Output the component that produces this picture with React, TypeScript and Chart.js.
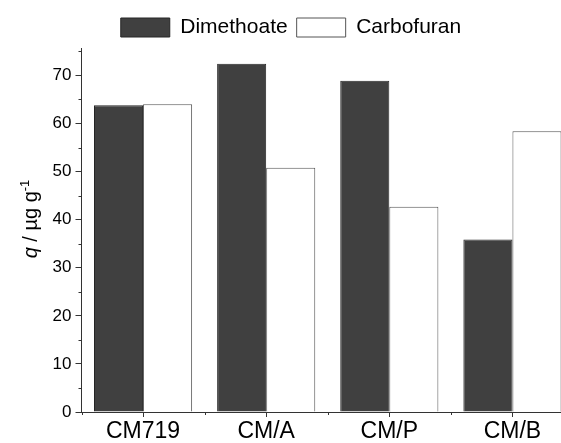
import React, { useEffect, useRef } from "react";
import { Chart, registerables } from "chart.js";

Chart.register(...registerables);
Chart.defaults.font.family = "'Liberation Sans', Arial, sans-serif";

const categories = ["CM719", "CM/A", "CM/P", "CM/B"];
const seriesNames = ["Dimethoate", "Carbofuran"];
const dimethoate = [63.8, 72.4, 68.9, 35.9];
const carbofuran = [64.0, 50.8, 42.7, 58.4];
const yMajorTicks = [0, 10, 20, 30, 40, 50, 60, 70];
const yMinorTicks = [5, 15, 25, 35, 45, 55, 65, 75];
const yMin = 0;
const yMax = 75.7;

const FONT = "'Liberation Sans', Arial, sans-serif";
const AXIS_COLOR = "#333333";
const TEXT_COLOR = "#000000";

const extrasPlugin = {
  id: "extras",
  afterDraw(chart: any) {
    const ctx = chart.ctx;
    const ys = chart.scales.y;
    const xs = chart.scales.x;
    const area = chart.chartArea;
    ctx.save();
    ctx.strokeStyle = AXIS_COLOR;
    ctx.lineWidth = 1;
    ctx.beginPath();
    for (const v of yMinorTicks) {
      const py = Math.round(ys.getPixelForValue(v)) + 0.5;
      ctx.moveTo(area.left - 3, py);
      ctx.lineTo(area.left, py);
    }
    for (let i = 0; i <= categories.length; i++) {
      const px = Math.round(xs.getPixelForValue(i - 0.5)) + 0.5;
      ctx.moveTo(px, area.bottom);
      ctx.lineTo(px, area.bottom + 3);
    }
    ctx.stroke();

    // y-axis title: italic q, then " / µg g" and superscript -1
    const cy = (area.top + area.bottom) / 2 - 11;
    const baseX = 37;
    const f1 = `italic 20px ${FONT}`;
    const f2 = `20px ${FONT}`;
    const f3 = `13px ${FONT}`;
    const s1 = "q";
    const s2 = " / µg g";
    const s3 = "-1";
    ctx.font = f1;
    const w1 = ctx.measureText(s1).width;
    ctx.font = f2;
    const w2 = ctx.measureText(s2).width;
    ctx.font = f3;
    const w3 = ctx.measureText(s3).width;
    const total = w1 + w2 + w3;
    ctx.translate(baseX, cy);
    ctx.rotate(-Math.PI / 2);
    ctx.fillStyle = TEXT_COLOR;
    ctx.textBaseline = "alphabetic";
    ctx.textAlign = "left";
    let x0 = -total / 2;
    ctx.font = f1;
    ctx.fillText(s1, x0, 0);
    x0 += w1;
    ctx.font = f2;
    ctx.fillText(s2, x0, 0);
    x0 += w2;
    ctx.font = f3;
    ctx.fillText(s3, x0, -8);
    ctx.restore();
  },
};

export default function App() {
  const canvasRef = useRef<HTMLCanvasElement | null>(null);

  useEffect(() => {
    if (!canvasRef.current) return;
    const chart = new Chart(canvasRef.current, {
      type: "bar",
      data: {
        labels: categories,
        datasets: [
          {
            label: seriesNames[0],
            data: dimethoate,
            backgroundColor: "#404040",
            borderColor: "#262626",
            borderWidth: 1,
            categoryPercentage: 0.797,
            barPercentage: 1,
          },
          {
            label: seriesNames[1],
            data: carbofuran,
            backgroundColor: "#ffffff",
            borderColor: "#555555",
            borderWidth: 1,
            categoryPercentage: 0.797,
            barPercentage: 1,
          },
        ],
      },
      options: {
        responsive: false,
        animation: false,
        layout: { padding: { left: 8, right: 26, top: 8, bottom: 0 } },
        plugins: {
          tooltip: { enabled: false },
          legend: {
            position: "top",
            labels: {
              boxWidth: 49,
              boxHeight: 19,
              padding: 9,
              color: TEXT_COLOR,
              font: { size: 21, family: FONT },
            },
          },
        },
        scales: {
          x: {
            type: "category",
            offset: true,
            grid: {
              offset: false,
              drawOnChartArea: false,
              drawTicks: true,
              tickLength: 5,
              color: AXIS_COLOR,
            },
            border: { display: true, color: AXIS_COLOR, width: 1 },
            ticks: {
              color: TEXT_COLOR,
              font: { size: 23, family: FONT },
              padding: 1,
              maxRotation: 0,
              autoSkip: false,
            },
            afterFit: (s: any) => {
              s.height = 31;
            },
          },
          y: {
            type: "linear",
            min: yMin,
            max: yMax,
            ticks: {
              stepSize: 10,
              includeBounds: false,
              color: TEXT_COLOR,
              font: { size: 17, family: FONT },
              padding: 4,
            },
            afterBuildTicks: (s: any) => {
              s.ticks = yMajorTicks.map((v) => ({ value: v }));
            },
            grid: {
              drawOnChartArea: false,
              drawTicks: true,
              tickLength: 6,
              color: AXIS_COLOR,
            },
            border: { display: true, color: AXIS_COLOR, width: 1 },
            afterFit: (s: any) => {
              s.width = 73.5;
            },
          },
        },
      },
      plugins: [extrasPlugin],
    });
    return () => chart.destroy();
  }, []);

  return (
    <div
      style={{
        position: "absolute",
        left: 0,
        top: 0,
        width: 561,
        height: 443,
        overflow: "hidden",
        background: "#ffffff",
      }}
    >
      <canvas ref={canvasRef} width={600} height={443} style={{ display: "block" }} />
    </div>
  );
}
